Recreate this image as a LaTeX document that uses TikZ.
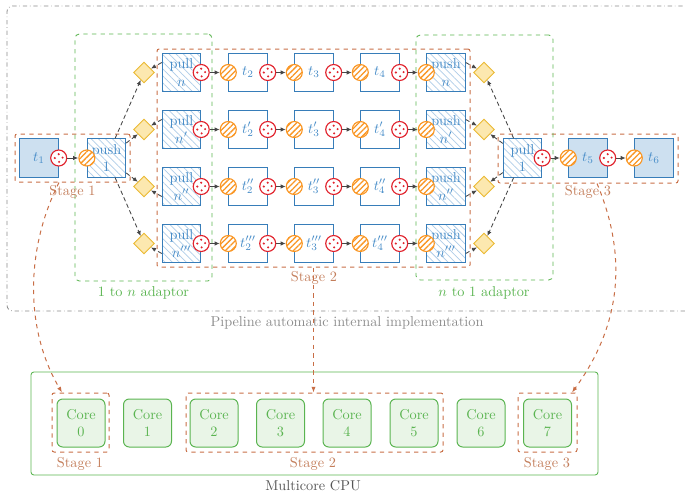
\documentclass[tikz,border=0pt]{standalone}
\usetikzlibrary{shapes.geometric,patterns.meta,arrows.meta,fit,calc}
\definecolor{bdblue}{RGB}{55,125,185}
\definecolor{txblue}{RGB}{70,140,200}
\definecolor{fillblue}{RGB}{205,224,240}
\definecolor{hatchblue}{RGB}{175,205,232}
\definecolor{redc}{RGB}{225,35,45}
\definecolor{orangec}{RGB}{250,150,35}
\definecolor{diafill}{RGB}{252,232,175}
\definecolor{diadraw}{RGB}{235,185,50}
\definecolor{stagec}{RGB}{200,110,70}
\definecolor{stagetx}{RGB}{195,125,90}
\definecolor{greenc}{RGB}{90,180,80}
\definecolor{corefill}{RGB}{233,245,231}
\definecolor{arrc}{RGB}{70,70,70}
\definecolor{grayc}{RGB}{140,140,140}
\definecolor{darkgrayc}{RGB}{85,85,85}
\begin{document}
\begin{tikzpicture}[x=0.7pt,y=-0.7pt,
  plainbox/.style={draw=bdblue, line width=0.6pt, minimum size=27pt, inner sep=0pt, fill=white, text=txblue, align=center},
  filledbox/.style={plainbox, fill=fillblue},
  hatchbox/.style={plainbox, preaction={fill=white}, pattern={Lines[angle=-45,distance=3.5pt,line width=0.5pt]}, pattern color=hatchblue},
  reddot/.style={circle, draw=redc, fill=white, line width=0.8pt, minimum size=11.2pt, inner sep=0pt,
    path picture={
      \fill[redc] ($(path picture bounding box.center)+(0pt,2.7pt)$) circle (0.8pt);
      \fill[redc] ($(path picture bounding box.center)+(-2.7pt,0pt)$) circle (0.8pt);
      \fill[redc] ($(path picture bounding box.center)+(2.7pt,0.3pt)$) circle (0.8pt);
      \fill[redc] ($(path picture bounding box.center)+(0.3pt,-2.7pt)$) circle (0.8pt);
    }},
  orangedot/.style={circle, draw=orangec, line width=0.8pt, minimum size=11.2pt, inner sep=0pt,
    preaction={fill=white}, pattern={Lines[angle=45,distance=2.8pt,line width=0.9pt]}, pattern color=orangec},
  dia/.style={diamond, draw=diadraw, fill=diafill, line width=0.6pt, inner sep=0pt, minimum size=14.5pt},
  arr/.style={-{Latex[length=3.5pt,width=3pt]}, draw=arrc, line width=0.6pt},
  darr/.style={arr, dash pattern=on 3pt off 2pt},
  stagerect/.style={draw=stagec, dashed, line width=0.7pt, rounded corners=1.5pt, inner sep=0pt},
  adaptrect/.style={draw=greenc, dashed, line width=0.6pt, rounded corners=3pt, inner sep=0pt},
  outerrect/.style={draw=grayc, dash dot, line width=0.6pt, rounded corners=4pt, inner sep=0pt},
  cpurect/.style={draw=greenc, line width=0.6pt, rounded corners=2pt, inner sep=0pt},
  core/.style={draw=greenc, fill=corefill, rounded corners=4pt, minimum size=33.6pt, text=greenc, align=center, inner sep=0pt, line width=0.7pt},
  stagelbl/.style={text=stagetx},
  adlbl/.style={text=greenc},
  stagearr/.style={draw=stagec, dashed, line width=0.7pt, -{Latex[length=4pt,width=3pt]}}
]
\useasboundingbox (0,0) rectangle (685,493);

% group frames
\node[outerrect, fit={(7,6) (720,311)}] (pipe) {};
\node[stagerect, fit={(15,134) (130,182)}] (st1) {};
\node[stagerect, fit={(157,49) (470,267)}] (st2) {};
\node[stagerect, fit={(498,134) (678,183)}] (st3) {};
\node[adaptrect, fit={(75,34) (212,281)}] (ad1) {};
\node[adaptrect, fit={(416,35) (553,280)}] (ad2) {};

% stage 1
\node[filledbox] (tone) at (39,158) {$t_1$};
\node[reddot] (toneo) at (tone.east) {};
\node[hatchbox] (pushS) at (106.5,158) {push\\1};
\node[orangedot] (pushSi) at (pushS.west) {};
\draw[arr] (toneo) -- (pushSi);

% stage 3
\node[hatchbox] (pullS) at (522.5,158) {pull\\1};
\node[reddot] (pullSo) at (pullS.east) {};
\node[filledbox] (tfive) at (588,158) {$t_5$};
\node[orangedot] (tfivei) at (tfive.west) {};
\node[reddot] (tfiveo) at (tfive.east) {};
\node[filledbox] (tsix) at (654,158) {$t_6$};
\node[orangedot] (tsixi) at (tsix.west) {};
\draw[arr] (pullSo) -- (tfivei);
\draw[arr] (tfiveo) -- (tsixi);

% stage 2 rows
\foreach \r/\y/\p/\off in {a/72.5/{}/-10, b/129.5/{'}/-10, c/186.5/{''}/10, d/243.5/{'''}/10}{
  \node[hatchbox] (pullrow\r) at (181.5,\y) {pull\\$n\p$};
  \node[reddot] (pullrowo\r) at (pullrow\r.east) {};
  \node[plainbox] (ta\r) at (248,\y) {$t\p_2$};
  \node[orangedot] (tai\r) at (ta\r.west) {};
  \node[reddot] (tao\r) at (ta\r.east) {};
  \node[plainbox] (tb\r) at (314,\y) {$t\p_3$};
  \node[orangedot] (tbi\r) at (tb\r.west) {};
  \node[reddot] (tbo\r) at (tb\r.east) {};
  \node[plainbox] (tc\r) at (380,\y) {$t\p_4$};
  \node[orangedot] (tci\r) at (tc\r.west) {};
  \node[reddot] (tco\r) at (tc\r.east) {};
  \node[hatchbox] (pushrow\r) at (446,\y) {push\\$n\p$};
  \node[orangedot] (pushrowi\r) at (pushrow\r.west) {};
  \draw[arr] (pullrowo\r) -- (tai\r);
  \draw[arr] (tao\r) -- (tbi\r);
  \draw[arr] (tbo\r) -- (tci\r);
  \draw[arr] (tco\r) -- (pushrowi\r);
  \node[dia] (dl\r) at (144,\y) {};
  \node[dia] (dr\r) at (484,\y) {};
  \draw[darr] (pushS) -- (dl\r);
  \draw[darr] (pullS) -- (dr\r);
  \draw[darr] ($(pullrow\r.west)+(0,\off)$) -- (dl\r);
  \draw[darr] ($(pushrow\r.east)+(0,\off)$) -- (dr\r);
}

% labels
\node[stagelbl] (st1l) at (72.5,192) {Stage 1};
\node[stagelbl] (st2l) at (314,278) {Stage 2};
\node[stagelbl] (st3l) at (588,192) {Stage 3};
\node[adlbl] (ad1l) at (143.5,293) {1 to $n$ adaptor};
\node[adlbl] (ad2l) at (484,293) {$n$ to 1 adaptor};
\node[text=grayc] (pipel) at (347,323) {Pipeline automatic internal implementation};

% multicore CPU
\node[cpurect, fit={(31,372) (598,475)}] (cpu) {};
\foreach \i/\x in {0/81,1/147.5,2/214,3/280.5,4/347,5/414,6/481,7/547.5}
  \node[core] (c\i) at (\x,423) {Core\\\i};
\node[stagerect, fit={(52,393) (109,452)}] (cs1) {};
\node[stagerect, fit={(186,393) (443,452)}] (cs2) {};
\node[stagerect, fit={(518,393) (577,452)}] (cs3) {};
\node[stagelbl] (cs1l) at (80,464) {Stage 1};
\node[stagelbl] (cs2l) at (313,464) {Stage 2};
\node[stagelbl] (cs3l) at (547,464) {Stage 3};
\node[text=darkgrayc] (cpul) at (313,486) {Multicore CPU};

% mapping arrows
\draw[stagearr] ($(st1.south)+(-13.5,0)$) .. controls (25,250) and (25,330) .. ($(cs1.north)+(-18.5,0)$);
\draw[stagearr] (st2.south) -- (st2.south |- cs2.north);
\draw[stagearr] ($(st3.south)+(9,0)$) .. controls (625,250) and (625,320) .. ($(cs3.north)+(24.5,0)$);
\end{tikzpicture}
\end{document}
